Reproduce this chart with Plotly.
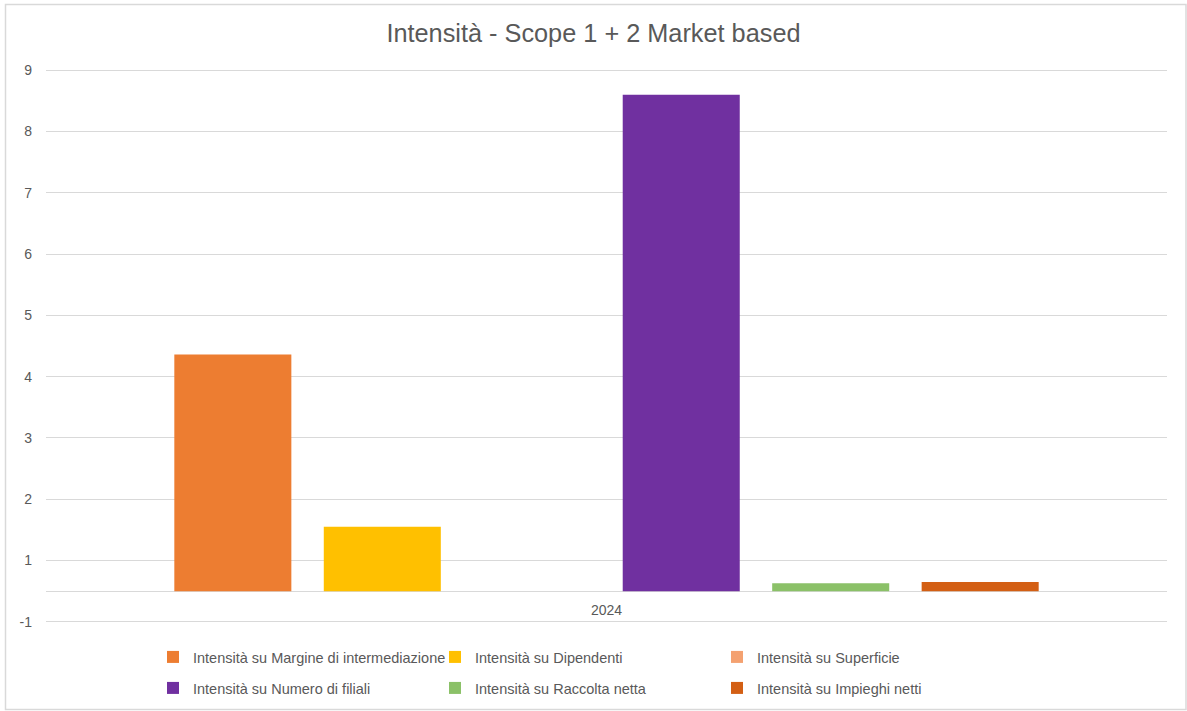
import plotly.graph_objects as go

# Data
category = ["2024"]
series_names = [
    "Intensità su Margine di intermediazione",
    "Intensità su Dipendenti",
    "Intensità su Superficie",
    "Intensità su Numero di filiali",
    "Intensità su Raccolta netta",
    "Intensità su Impieghi netti",
]
series_values = [3.86, 1.05, 0.0, 8.10, 0.13, 0.15]
series_colors = ["#ED7D31", "#FFC000", "#F4A170", "#7030A0", "#8BC168", "#D35F14"]

# Axis ticks sit on the half units, labels rounded
tick_vals = [-0.5, 0.5, 1.5, 2.5, 3.5, 4.5, 5.5, 6.5, 7.5, 8.5]
tick_text = ["-1", "1", "2", "3", "4", "5", "6", "7", "8", "9"]

W, H = 1187, 711
ML, MR, MT, MB = 46, 20, 69, 88
PW, PH = W - ML - MR, H - MT - MB

GREY = "#595959"
GRID = "#D9D9D9"

fig = go.Figure()
for i, (name, val, col) in enumerate(zip(series_names, series_values, series_colors)):
    fig.add_trace(go.Bar(
        x=category, y=[val], name=name,
        marker=dict(color=col, line=dict(width=0)),
        legend="legend" if i < 3 else "legend2",
    ))


def px_x(p):
    return (p - ML) / PW


def px_y(p):
    return (H - MB - p) / PH


legend_common = dict(
    orientation="h", xanchor="left", yanchor="middle",
    xref="container", yref="container",
    entrywidth=237, entrywidthmode="pixels",
    font=dict(family="Liberation Sans, Arial", size=14.5, color=GREY),
    traceorder="normal", itemclick=False, itemdoubleclick=False,
    bgcolor="rgba(0,0,0,0)",
)

fig.update_layout(
    width=W, height=H,
    margin=dict(l=ML, r=MR, t=MT, b=MB, autoexpand=False),
    paper_bgcolor="white", plot_bgcolor="white",
    barmode="group", bargap=0.2, bargroupgap=0.217,
    font=dict(family="Liberation Sans, Arial", color=GREY, size=14),
    title=dict(
        text="Intensità - Scope 1 + 2 Market based",
        x=0.5, xanchor="center", xref="container",
        y=1 - 33 / H, yanchor="middle", yref="container",
        font=dict(family="Liberation Sans, Arial", size=25.3, color=GREY),
    ),
    xaxis=dict(type="category", showticklabels=False, showgrid=False,
               showline=False, zeroline=False, ticks=""),
    yaxis=dict(range=[-0.52, 8.52], tickvals=tick_vals, ticktext=tick_text,
               showgrid=True, gridcolor=GRID, gridwidth=1,
               zeroline=True, zerolinecolor=GRID, zerolinewidth=1,
               showline=False, ticks="", ticklabelstandoff=13,
               tickfont=dict(size=14, color=GREY)),
    legend=dict(x=153 / W, y=1 - 657 / H, **legend_common),
    legend2=dict(x=153 / W, y=1 - 688 / H, **legend_common),
    showlegend=True,
)

fig.add_annotation(
    x=0.5, xref="paper", y=0, yref="y", yanchor="top", yshift=-9,
    text="2024", showarrow=False, font=dict(size=14, color=GREY),
)

# Chart frame
fig.add_shape(
    type="rect", xref="paper", yref="paper",
    x0=px_x(5.5), x1=px_x(1186), y0=px_y(709.5), y1=px_y(4.5),
    line=dict(color=GRID, width=1.5), fillcolor="rgba(0,0,0,0)", layer="below",
)

fig.write_html("out.html")
